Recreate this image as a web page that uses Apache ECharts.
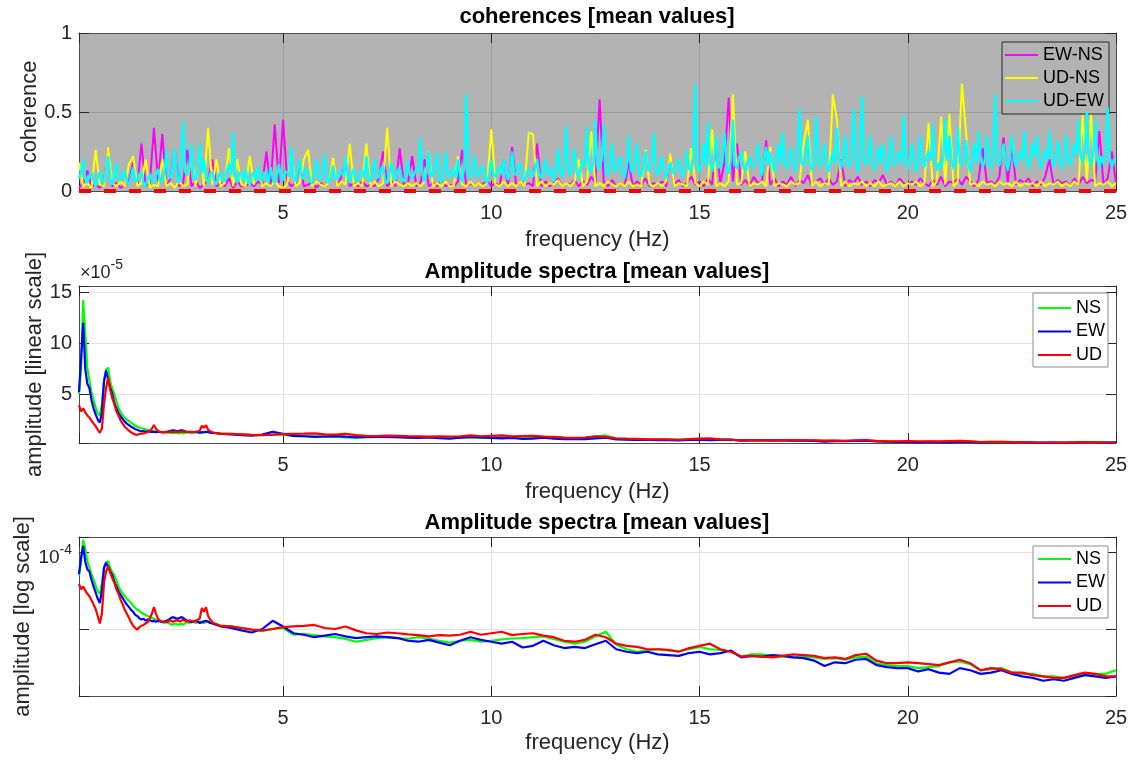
<!DOCTYPE html>
<html>
<head>
<meta charset="utf-8">
<script src="https://cdn.jsdelivr.net/npm/echarts@6/dist/echarts.min.js"></script>
<style>
html,body{margin:0;padding:0;background:#fff;}
#chart{width:1135px;height:760px;}
</style>
</head>
<body>
<div id="chart"></div>
<script>
// ---------- DATA ----------
const FREQ_MIN = 0.1;
const FREQ_MAX = 25;
const X_TICKS = [5, 10, 15, 20, 25];
const COH_STEP = 0.1;          // EW-NS and UD-NS spacing (Hz), from FREQ_MIN
const COH_STEP_FINE = 0.05;    // UD-EW spacing (Hz), from FREQ_MIN
const COH_THRESHOLD = 0;       // red dashed reference line

// coherence EW-NS (magenta), 0.1 .. 25.0 Hz
const COH_EW_NS = [
0.02,0.05,0.13,0.03,0.04,0.02,0.06,0.28,0.03,0.05,
0.02,0.04,0.06,0.18,0.03,0.30,0.03,0.05,0.40,0.06,
0.36,0.03,0.08,0.26,0.03,0.05,0.26,0.03,0.06,0.02,
0.04,0.07,0.20,0.03,0.05,0.03,0.08,0.02,0.06,0.03,
0.03,0.05,0.03,0.06,0.04,0.25,0.03,0.42,0.05,0.45,
0.06,0.03,0.05,0.18,0.03,0.04,0.06,0.02,0.05,0.03,
0.05,0.17,0.03,0.09,0.17,0.03,0.05,0.03,0.06,0.03,
0.04,0.03,0.08,0.25,0.03,0.06,0.03,0.27,0.04,0.05,
0.22,0.03,0.05,0.20,0.03,0.05,0.03,0.07,0.03,0.04,
0.03,0.06,0.26,0.03,0.05,0.03,0.05,0.04,0.07,0.03,
0.05,0.03,0.20,0.03,0.28,0.03,0.06,0.04,0.05,0.03,
0.30,0.03,0.06,0.03,0.05,0.08,0.03,0.05,0.04,0.07,
0.03,0.06,0.04,0.09,0.05,0.58,0.06,0.03,0.07,0.03,
0.05,0.03,0.18,0.03,0.06,0.04,0.08,0.03,0.05,0.04,
0.06,0.03,0.24,0.04,0.07,0.03,0.05,0.09,0.04,0.06,
0.03,0.08,0.04,0.31,0.05,0.18,0.59,0.06,0.30,0.04,
0.07,0.03,0.09,0.05,0.06,0.32,0.04,0.08,0.03,0.06,
0.04,0.09,0.03,0.07,0.05,0.10,0.03,0.06,0.08,0.04,
0.08,0.04,0.06,0.20,0.03,0.07,0.05,0.09,0.04,0.06,
0.03,0.07,0.05,0.10,0.04,0.06,0.03,0.08,0.05,0.04,
0.06,0.04,0.08,0.05,0.03,0.07,0.04,0.09,0.03,0.06,
0.05,0.08,0.04,0.09,0.06,0.03,0.07,0.27,0.05,0.06,
0.04,0.09,0.34,0.05,0.29,0.04,0.07,0.05,0.08,0.03,
0.06,0.04,0.09,0.20,0.04,0.07,0.05,0.06,0.03,0.08,
0.04,0.09,0.05,0.07,0.06,0.38,0.04,0.08,0.25,0.05
];
// coherence UD-NS (yellow), 0.1 .. 25.0 Hz
const COH_UD_NS = [
0.18,0.03,0.05,0.02,0.26,0.04,0.03,0.28,0.05,0.03,
0.06,0.03,0.17,0.22,0.03,0.05,0.20,0.02,0.04,0.03,
0.20,0.03,0.05,0.02,0.06,0.03,0.04,0.25,0.03,0.27,
0.03,0.40,0.04,0.20,0.03,0.05,0.27,0.03,0.20,0.04,
0.03,0.22,0.04,0.15,0.03,0.05,0.03,0.06,0.03,0.02,
0.04,0.25,0.03,0.05,0.20,0.26,0.03,0.06,0.04,0.03,
0.05,0.21,0.03,0.06,0.04,0.30,0.03,0.05,0.03,0.30,
0.03,0.06,0.03,0.05,0.40,0.03,0.06,0.04,0.03,0.05,
0.03,0.05,0.03,0.06,0.25,0.03,0.05,0.03,0.06,0.03,
0.03,0.22,0.04,0.03,0.06,0.03,0.05,0.03,0.05,0.39,
0.04,0.03,0.06,0.03,0.05,0.03,0.06,0.03,0.37,0.36,
0.03,0.06,0.03,0.05,0.04,0.07,0.03,0.05,0.03,0.06,
0.20,0.03,0.06,0.38,0.03,0.05,0.03,0.06,0.04,0.03,
0.05,0.03,0.06,0.03,0.04,0.03,0.26,0.04,0.03,0.05,
0.03,0.06,0.24,0.03,0.05,0.04,0.03,0.27,0.05,0.03,
0.06,0.04,0.39,0.03,0.05,0.03,0.06,0.61,0.04,0.05,
0.25,0.03,0.05,0.04,0.06,0.03,0.28,0.03,0.05,0.04,
0.03,0.06,0.04,0.05,0.30,0.45,0.03,0.06,0.03,0.05,
0.04,0.61,0.45,0.03,0.06,0.03,0.05,0.04,0.06,0.03,
0.05,0.03,0.06,0.03,0.04,0.05,0.03,0.06,0.03,0.05,
0.04,0.06,0.03,0.05,0.43,0.03,0.06,0.47,0.04,0.49,
0.03,0.06,0.68,0.37,0.04,0.05,0.03,0.06,0.04,0.05,
0.03,0.06,0.04,0.05,0.03,0.06,0.03,0.05,0.04,0.05,
0.03,0.06,0.03,0.05,0.04,0.06,0.03,0.05,0.03,0.06,
0.04,0.48,0.06,0.50,0.03,0.05,0.04,0.06,0.03,0.05
];
// coherence UD-EW (cyan), 0.10 .. 25.00 Hz every 0.05 Hz (rows of 1 Hz)
const COH_UD_EW = [
0.08,0.12,0.20,0.07,0.05,0.10,0.12,0.06,0.03,0.09,0.12,0.05,0.06,0.14,0.22,0.08,0.04,0.11,0.18,0.07,
0.07,0.10,0.13,0.06,0.04,0.09,0.15,0.07,0.06,0.11,0.12,0.05,0.03,0.08,0.11,0.06,0.05,0.10,0.14,0.06,
0.06,0.12,0.26,0.09,0.08,0.15,0.27,0.10,0.05,0.18,0.44,0.12,0.10,0.16,0.30,0.08,0.07,0.14,0.30,0.11,
0.20,0.08,0.05,0.11,0.12,0.06,0.04,0.09,0.12,0.07,0.06,0.13,0.17,0.10,0.37,0.09,0.05,0.12,0.10,0.06,
0.14,0.07,0.04,0.10,0.12,0.06,0.16,0.09,0.06,0.12,0.11,0.05,0.15,0.08,0.05,0.10,0.17,0.07,0.08,0.12,
0.12,0.09,0.28,0.10,0.06,0.13,0.20,0.08,0.08,0.14,0.13,0.06,0.05,0.11,0.20,0.09,0.07,0.12,0.23,0.08,
0.05,0.10,0.16,0.07,0.08,0.13,0.12,0.09,0.22,0.10,0.05,0.11,0.14,0.06,0.07,0.12,0.13,0.08,0.22,0.09,
0.06,0.12,0.20,0.08,0.09,0.14,0.16,0.07,0.05,0.10,0.18,0.09,0.07,0.13,0.15,0.08,0.06,0.11,0.19,0.10,
0.08,0.11,0.14,0.12,0.34,0.10,0.06,0.13,0.25,0.09,0.10,0.15,0.24,0.08,0.05,0.12,0.25,0.10,0.09,0.13,
0.14,0.08,0.20,0.10,0.06,0.15,0.61,0.12,0.08,0.13,0.22,0.09,0.10,0.14,0.16,0.07,0.05,0.11,0.20,0.10,
0.09,0.13,0.16,0.10,0.20,0.12,0.07,0.14,0.25,0.11,0.10,0.15,0.18,0.09,0.06,0.12,0.14,0.10,0.09,0.13,
0.20,0.11,0.08,0.13,0.20,0.10,0.12,0.15,0.06,0.14,0.27,0.12,0.09,0.16,0.41,0.13,0.10,0.17,0.27,0.12,
0.08,0.14,0.20,0.16,0.41,0.13,0.12,0.18,0.45,0.14,0.15,0.20,0.42,0.12,0.10,0.17,0.30,0.13,0.12,0.18,
0.22,0.12,0.08,0.15,0.35,0.13,0.12,0.17,0.30,0.11,0.09,0.16,0.25,0.13,0.14,0.19,0.37,0.12,0.10,0.16,
0.22,0.13,0.08,0.15,0.18,0.12,0.11,0.17,0.20,0.13,0.09,0.16,0.26,0.14,0.13,0.20,0.68,0.15,0.12,0.19,
0.30,0.16,0.44,0.18,0.12,0.20,0.35,0.15,0.15,0.22,0.37,0.16,0.11,0.19,0.45,0.17,0.14,0.21,0.25,0.16,
0.12,0.18,0.22,0.15,0.15,0.20,0.30,0.17,0.10,0.19,0.28,0.16,0.25,0.18,0.12,0.20,0.30,0.17,0.37,0.18,
0.14,0.20,0.28,0.17,0.12,0.22,0.52,0.18,0.16,0.21,0.35,0.17,0.13,0.20,0.47,0.19,0.15,0.22,0.30,0.17,
0.12,0.19,0.25,0.18,0.40,0.20,0.14,0.21,0.35,0.18,0.15,0.23,0.52,0.19,0.12,0.22,0.60,0.20,0.16,0.21,
0.35,0.18,0.13,0.20,0.28,0.17,0.30,0.21,0.12,0.19,0.35,0.18,0.16,0.22,0.25,0.17,0.48,0.20,0.14,0.21,
0.30,0.19,0.12,0.20,0.35,0.18,0.15,0.22,0.25,0.19,0.42,0.20,0.13,0.18,0.14,0.21,0.46,0.19,0.35,0.20,
0.14,0.20,0.40,0.18,0.16,0.21,0.32,0.19,0.12,0.20,0.30,0.18,0.38,0.21,0.15,0.19,0.35,0.20,0.14,0.22,
0.61,0.20,0.16,0.22,0.30,0.19,0.13,0.21,0.35,0.20,0.15,0.22,0.25,0.19,0.38,0.21,0.14,0.20,0.30,0.22,
0.35,0.20,0.14,0.21,0.26,0.19,0.38,0.22,0.15,0.20,0.32,0.21,0.14,0.19,0.35,0.22,0.16,0.21,0.30,0.23,
0.45,0.22,0.18,0.24,0.50,0.21,0.16,0.23,0.45,0.20,0.14,0.22,0.17,0.25,0.53,0.21,0.15,0.20,0.20
];

// amplitude spectra, in units of 1e-5
// low band: 0.10 .. 3.50 Hz every 0.05 Hz ; high band: 3.75 .. 25 Hz every 0.25 Hz
const LOW_START = 0.10, LOW_STEP = 0.05;
const HIGH_START = 3.75, HIGH_STEP = 0.25;

const AMP_NS_LOW = [
5.0,7.5,14.2,11.0,7.6,6.3,5.2,4.4,3.7,3.1,
2.9,4.0,6.4,7.4,7.6,6.2,5.5,5.0,4.3,3.6,
3.2,2.9,2.7,2.5,2.35,2.2,2.05,1.9,1.8,1.75,
1.65,1.6,1.55,1.5,1.45,1.42,1.38,1.35,1.32,1.3,
1.28,1.3,1.26,1.22,1.18,1.16,1.2,1.18,1.15,1.2,
1.15,1.22,1.25,1.22,1.28,1.26,1.22,1.25,1.28,1.24,
1.22,1.26,1.3,1.25,1.22,1.2,1.18,1.15,1.14
];
const AMP_NS_HIGH = [
1.1,1.05,1.0,0.96,1.02,1.05,0.86,0.88,0.85,0.82,
0.8,0.76,0.7,0.74,0.78,0.8,0.78,0.76,0.8,0.77,
0.72,0.68,0.72,0.74,0.7,0.72,0.75,0.77,0.78,0.8,
0.82,0.76,0.7,0.66,0.7,0.82,0.94,0.64,0.56,0.52,
0.54,0.56,0.54,0.53,0.56,0.6,0.56,0.55,0.52,0.45,
0.48,0.48,0.46,0.45,0.44,0.45,0.44,0.42,0.43,0.41,
0.44,0.45,0.37,0.35,0.34,0.34,0.32,0.33,0.34,0.38,
0.39,0.36,0.3,0.31,0.32,0.28,0.27,0.27,0.25,0.25,
0.24,0.25,0.27,0.27,0.27,0.30
];
const AMP_EW_LOW = [
5.2,8.5,12.0,7.5,6.0,5.6,4.4,3.6,3.0,2.5,
2.2,3.2,6.2,7.3,6.4,5.6,5.0,4.1,3.6,3.1,
2.8,2.55,2.3,2.1,1.95,1.8,1.7,1.55,1.5,1.4,
1.35,1.38,1.3,1.35,1.32,1.28,1.3,1.26,1.3,1.28,
1.25,1.26,1.3,1.34,1.4,1.45,1.42,1.38,1.4,1.45,
1.42,1.35,1.3,1.28,1.25,1.27,1.3,1.26,1.22,1.25,
1.28,1.3,1.26,1.22,1.2,1.18,1.15,1.13,1.1
];
const AMP_EW_HIGH = [
1.05,0.98,0.92,1.02,1.3,1.1,0.9,0.86,0.8,0.84,
0.88,0.82,0.78,0.8,0.82,0.8,0.78,0.72,0.7,0.74,
0.68,0.63,0.72,0.8,0.74,0.7,0.66,0.7,0.59,0.62,
0.72,0.63,0.58,0.6,0.58,0.65,0.72,0.56,0.52,0.5,
0.52,0.48,0.47,0.46,0.5,0.52,0.48,0.5,0.54,0.44,
0.46,0.45,0.47,0.46,0.44,0.43,0.4,0.34,0.38,0.37,
0.41,0.42,0.35,0.33,0.32,0.32,0.29,0.31,0.28,0.27,
0.32,0.3,0.27,0.28,0.3,0.27,0.25,0.24,0.22,0.23,
0.22,0.24,0.26,0.25,0.24,0.25
];
const AMP_UD_LOW = [
3.9,3.3,3.6,3.2,2.9,2.7,2.4,2.1,1.85,1.5,
1.2,1.6,4.0,5.6,6.6,5.4,4.6,4.0,3.3,2.9,
2.4,2.1,1.8,1.6,1.42,1.25,1.12,1.05,1.0,1.08,
1.12,1.15,1.2,1.25,1.4,1.6,1.95,1.6,1.38,1.3,
1.26,1.24,1.25,1.28,1.32,1.26,1.3,1.32,1.28,1.3,
1.34,1.3,1.28,1.32,1.3,1.27,1.3,1.34,1.4,1.9,
1.7,1.95,1.5,1.35,1.25,1.2,1.18,1.14,1.12
];
const AMP_UD_HIGH = [
1.1,1.05,1.0,0.98,1.02,1.08,1.1,1.12,1.15,1.05,
1.02,1.1,0.98,0.9,0.88,0.92,0.9,0.87,0.85,0.82,
0.85,0.84,0.86,0.94,0.86,0.9,0.94,0.85,0.88,0.9,
0.84,0.8,0.72,0.7,0.74,0.86,0.8,0.66,0.62,0.6,
0.56,0.56,0.55,0.52,0.58,0.62,0.66,0.56,0.52,0.45,
0.46,0.45,0.44,0.46,0.48,0.47,0.46,0.43,0.44,0.42,
0.47,0.49,0.4,0.37,0.37,0.38,0.37,0.36,0.35,0.38,
0.41,0.37,0.3,0.32,0.31,0.28,0.28,0.26,0.25,0.24,
0.24,0.26,0.28,0.27,0.25,0.25
];

const LIN_RANGE = [0.2, 15.6];   // x1e-5
const LOG_RANGE = [0.14, 15.6];  // x1e-5
const LIN_TICKS = [5, 10, 15];

// ---------- BUILD ----------
const freqGrid = (arr, start, step) => arr.map((_, i) => +(start + i * step).toFixed(2));
const zip = (xs, ys) => xs.map((x, i) => [x, ys[i]]);
const cohPairs = (arr, step) => zip(freqGrid(arr, FREQ_MIN, step), arr);
const specPairs = (low, high) => zip(freqGrid(low, LOW_START, LOW_STEP), low)
  .concat(zip(freqGrid(high, HIGH_START, HIGH_STEP), high));

const FONT = '"Liberation Sans", Arial, Helvetica, sans-serif';
const TXT = '#262626';
const AXC = '#4d4d4d';

const grids = [
  { left: 79, top: 33, width: 1037, height: 158, show: true, backgroundColor: '#b3b3b3', borderWidth: 0, outerBoundsMode: 'none', containLabel: false },
  { left: 79, top: 286, width: 1037, height: 157, show: true, backgroundColor: '#ffffff', borderWidth: 0, outerBoundsMode: 'none', containLabel: false },
  { left: 79, top: 537, width: 1037, height: 159, show: true, backgroundColor: '#ffffff', borderWidth: 0, outerBoundsMode: 'none', containLabel: false }
];
const gridLineColor = ['#9a9a9a', '#e2e2e2', '#e2e2e2'];
const yNameGap = [38, 33, 45];
const xNameGap = [38, 38, 36];

const near = (v, list) => list.some(t => Math.abs(v - t) < 1e-6);

const xAxes = [];
const yAxes = [];
for (let g = 0; g < 3; g++) {
  xAxes.push({
    type: 'value', gridIndex: g, min: FREQ_MIN, max: FREQ_MAX, position: 'bottom',
    axisLine: { show: true, onZero: false, lineStyle: { color: AXC, width: 1 } },
    axisTick: { show: true, inside: true, length: 10, lineStyle: { color: TXT } },
    axisLabel: { show: true, fontSize: 20, color: TXT, fontFamily: FONT, margin: 12,
      formatter: v => near(v, X_TICKS) ? String(Math.round(v)) : '' },
    splitLine: { show: true, lineStyle: { color: gridLineColor[g], width: 1 } },
    name: 'frequency (Hz)', nameLocation: 'middle', nameGap: xNameGap[g], nameMoveOverlap: false,
    nameTextStyle: { fontSize: 22, color: TXT, fontFamily: FONT }
  });
  xAxes.push({
    type: 'value', gridIndex: g, min: FREQ_MIN, max: FREQ_MAX, position: 'top',
    axisLine: { show: true, onZero: false, lineStyle: { color: AXC, width: 1 } },
    axisTick: { show: true, inside: true, length: 10, lineStyle: { color: TXT } },
    axisLabel: { show: false }, splitLine: { show: false }
  });
}

const supRich = {
  b: { fontSize: 19, fontFamily: FONT, color: TXT, lineHeight: 24, verticalAlign: 'bottom' },
  s: { fontSize: 14, fontFamily: FONT, color: TXT, lineHeight: 24, verticalAlign: 'top' }
};

const cohY = { type: 'value', gridIndex: 0, min: 0, max: 1, interval: 0.5 };
const linY = { type: 'value', gridIndex: 1, min: LIN_RANGE[0], max: LIN_RANGE[1], splitNumber: 3 };
const logY = { type: 'log', logBase: 10, gridIndex: 2, min: LOG_RANGE[0], max: LOG_RANGE[1] };

const yDefs = [
  [cohY, 'coherence', v => near(v, [0, 0.5, 1]) ? String(v) : ''],
  [linY, 'amplitude [linear scale]', v => near(v, LIN_TICKS) ? String(Math.round(v)) : ''],
  [logY, 'amplitude [log scale]', v => near(v, [10]) ? '{b|10}{s|-4}' : '']
];
yDefs.forEach(([base, name, fmt], g) => {
  yAxes.push(Object.assign({}, base, {
    position: 'left',
    axisLine: { show: true, onZero: false, lineStyle: { color: AXC, width: 1 } },
    axisTick: { show: true, inside: true, length: 10, lineStyle: { color: TXT } },
    axisLabel: { show: true, fontSize: 20, color: TXT, fontFamily: FONT, margin: 7, formatter: fmt,
      rich: supRich, padding: g === 2 ? [6, 0, 0, 0] : 0 },
    splitLine: { show: true, lineStyle: { color: gridLineColor[g], width: 1 } },
    name: name, nameLocation: 'middle', nameGap: yNameGap[g], nameMoveOverlap: false,
    nameTextStyle: { fontSize: 22, color: TXT, fontFamily: FONT }
  }));
  yAxes.push(Object.assign({}, base, {
    position: 'right',
    axisLine: { show: true, onZero: false, lineStyle: { color: AXC, width: 1 } },
    axisTick: { show: true, inside: true, length: 10, lineStyle: { color: TXT } },
    axisLabel: { show: false }, splitLine: { show: false }
  }));
});

function line(name, data, color, g, width, z) {
  return {
    type: 'line', name: name, data: data, xAxisIndex: g * 2, yAxisIndex: g * 2,
    showSymbol: false, symbol: 'none', animation: false, silent: true, z: z,
    lineStyle: { color: color, width: width }, itemStyle: { color: color }
  };
}

const series = [
  line('EW-NS', cohPairs(COH_EW_NS, COH_STEP), '#ff00ff', 0, 2, 2),
  line('UD-NS', cohPairs(COH_UD_NS, COH_STEP), '#ffff00', 0, 2, 3),
  line('UD-EW', cohPairs(COH_UD_EW, COH_STEP_FINE), '#00ffff', 0, 2.4, 4),
  Object.assign(line('threshold', [[FREQ_MIN, COH_THRESHOLD], [FREQ_MAX, COH_THRESHOLD]], '#ff0000', 0, 4, 6),
    { clip: false, lineStyle: { color: '#ff0000', width: 4, type: [12, 13] } }),
  line('NS', specPairs(AMP_NS_LOW, AMP_NS_HIGH), '#00ff00', 1, 2.2, 2),
  line('EW', specPairs(AMP_EW_LOW, AMP_EW_HIGH), '#0000ff', 1, 2.2, 3),
  line('UD', specPairs(AMP_UD_LOW, AMP_UD_HIGH), '#ff0000', 1, 2.2, 4),
  line('NS', specPairs(AMP_NS_LOW, AMP_NS_HIGH), '#00ff00', 2, 2.2, 2),
  line('EW', specPairs(AMP_EW_LOW, AMP_EW_HIGH), '#0000ff', 2, 2.2, 3),
  line('UD', specPairs(AMP_UD_LOW, AMP_UD_HIGH), '#ff0000', 2, 2.2, 4)
];

function legend(names, left, top, bg, border, gap, pad) {
  return {
    data: names, orient: 'vertical', left: left, top: top, icon: 'rect',
    itemWidth: 33, itemHeight: 2, itemGap: gap, selectedMode: false,
    padding: pad, backgroundColor: bg, borderColor: border, borderWidth: 1, borderRadius: 0,
    textStyle: { fontSize: 18, lineHeight: 20, color: '#000', fontFamily: FONT }
  };
}

const titleStyle = { fontSize: 22, fontWeight: 'bold', color: '#000', fontFamily: FONT };

const option = {
  backgroundColor: '#ffffff',
  animation: false,
  title: [
    { text: 'coherences [mean values]', left: 597, top: 6, textAlign: 'center', textStyle: titleStyle, padding: 0 },
    { text: 'Amplitude spectra [mean values]', left: 597, top: 261, textAlign: 'center', textStyle: titleStyle, padding: 0 },
    { text: 'Amplitude spectra [mean values]', left: 597, top: 512, textAlign: 'center', textStyle: titleStyle, padding: 0 }
  ],
  legend: [
    legend(['EW-NS', 'UD-NS', 'UD-EW'], 1002, 42, '#b3b3b3', '#262626', 3, [3, 5, 3, 3]),
    legend(['NS', 'EW', 'UD'], 1033, 293, '#ffffff', '#8c8c8c', 3.5, [5, 3, 2, 5]),
    legend(['NS', 'EW', 'UD'], 1033, 546, '#ffffff', '#8c8c8c', 3.5, [3, 3, 2, 5])
  ],
  grid: grids,
  xAxis: xAxes,
  yAxis: yAxes,
  series: series,
  graphic: [
    { type: 'text', left: 80, top: 258, silent: true,
      style: { text: '{b|×10}{s|-5}', rich: {
        b: { fontSize: 18, fontFamily: FONT, fill: TXT, color: TXT, lineHeight: 24, verticalAlign: 'bottom' },
        s: { fontSize: 14, fontFamily: FONT, fill: TXT, color: TXT, lineHeight: 24, verticalAlign: 'top' } } } }
  ]
};

const chart = echarts.init(document.getElementById('chart'), null, { renderer: 'canvas', width: 1135, height: 760 });
chart.setOption(option);
</script>
</body>
</html>
